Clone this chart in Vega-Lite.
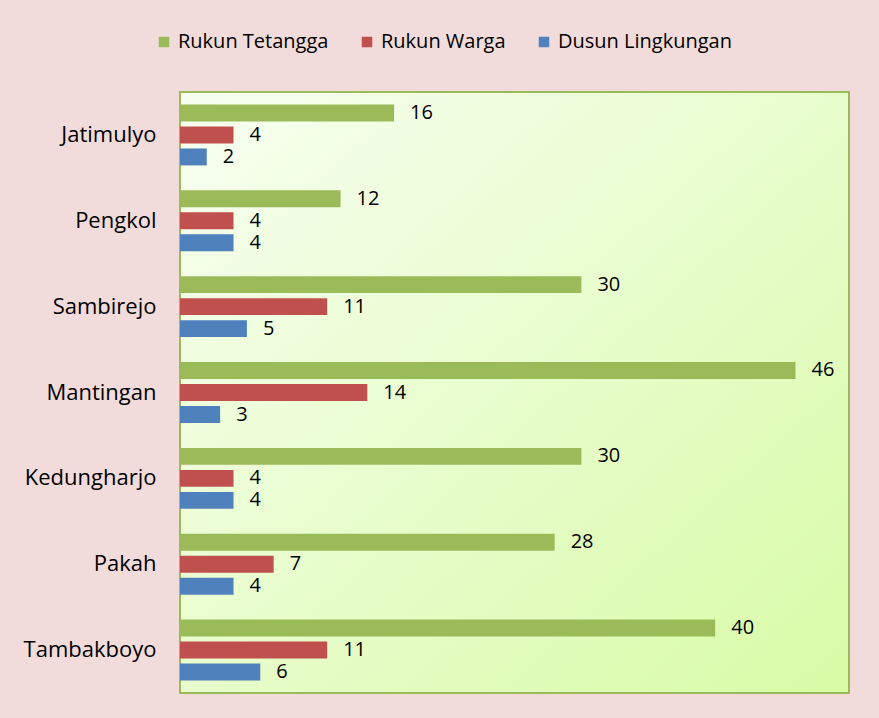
{
  "$schema": "https://vega.github.io/schema/vega-lite/v6.json",
  "width": 669,
  "height": 601,
  "autosize": "none",
  "padding": {"left": 180, "top": 92, "right": 30, "bottom": 25},
  "background": "#f2dcdb",
  "config": {
    "font": "Open Sans",
    "view": {
      "fill": {"gradient": "linear", "x1": 0, "y1": 0, "x2": 1, "y2": 1, "stops": [{"offset": 0, "color": "#f8fff2"}, {"offset": 1, "color": "#d8fba6"}]},
      "stroke": "#9bbb59",
      "strokeWidth": 2
    }
  },
  "data": {
    "values": [
      {"desa": "Jatimulyo", "jenis": "Rukun Tetangga", "jumlah": 16},
      {"desa": "Jatimulyo", "jenis": "Rukun Warga", "jumlah": 4},
      {"desa": "Jatimulyo", "jenis": "Dusun Lingkungan", "jumlah": 2},
      {"desa": "Pengkol", "jenis": "Rukun Tetangga", "jumlah": 12},
      {"desa": "Pengkol", "jenis": "Rukun Warga", "jumlah": 4},
      {"desa": "Pengkol", "jenis": "Dusun Lingkungan", "jumlah": 4},
      {"desa": "Sambirejo", "jenis": "Rukun Tetangga", "jumlah": 30},
      {"desa": "Sambirejo", "jenis": "Rukun Warga", "jumlah": 11},
      {"desa": "Sambirejo", "jenis": "Dusun Lingkungan", "jumlah": 5},
      {"desa": "Mantingan", "jenis": "Rukun Tetangga", "jumlah": 46},
      {"desa": "Mantingan", "jenis": "Rukun Warga", "jumlah": 14},
      {"desa": "Mantingan", "jenis": "Dusun Lingkungan", "jumlah": 3},
      {"desa": "Kedungharjo", "jenis": "Rukun Tetangga", "jumlah": 30},
      {"desa": "Kedungharjo", "jenis": "Rukun Warga", "jumlah": 4},
      {"desa": "Kedungharjo", "jenis": "Dusun Lingkungan", "jumlah": 4},
      {"desa": "Pakah", "jenis": "Rukun Tetangga", "jumlah": 28},
      {"desa": "Pakah", "jenis": "Rukun Warga", "jumlah": 7},
      {"desa": "Pakah", "jenis": "Dusun Lingkungan", "jumlah": 4},
      {"desa": "Tambakboyo", "jenis": "Rukun Tetangga", "jumlah": 40},
      {"desa": "Tambakboyo", "jenis": "Rukun Warga", "jumlah": 11},
      {"desa": "Tambakboyo", "jenis": "Dusun Lingkungan", "jumlah": 6}
    ]
  },
  "encoding": {
    "y": {
      "field": "desa", "type": "nominal", "sort": null,
      "scale": {"paddingInner": 0.29, "paddingOuter": 0.145},
      "axis": {"title": null, "ticks": false, "domain": false, "labelFontSize": 22, "labelColor": "#000000", "labelPadding": 24, "labelFont": "Open Sans", "labelLimit": 0}
    },
    "yOffset": {
      "field": "jenis", "type": "nominal",
      "sort": ["Rukun Tetangga", "Rukun Warga", "Dusun Lingkungan"],
      "scale": {"paddingInner": 0.23, "paddingOuter": 0}
    },
    "x": {
      "field": "jumlah", "type": "quantitative",
      "scale": {"domain": [0, 50], "nice": false},
      "axis": null
    }
  },
  "layer": [
    {
      "mark": {"type": "bar", "stroke": null},
      "encoding": {
        "color": {
          "field": "jenis", "type": "nominal",
          "sort": ["Rukun Tetangga", "Rukun Warga", "Dusun Lingkungan"],
          "scale": {"domain": ["Rukun Tetangga", "Rukun Warga", "Dusun Lingkungan"], "range": ["#9bbb59", "#c0504d", "#4f81bd"]},
          "legend": {
            "title": null, "orient": "none", "direction": "horizontal",
            "legendX": -26, "legendY": -60,
            "symbolType": "square", "symbolSize": 110, "symbolStrokeWidth": 0,
            "labelFontSize": 20, "labelColor": "#000000", "labelOffset": 4, "labelLimit": 0,
            "columnPadding": 28, "symbolOffset": 0
          }
        }
      }
    },
    {
      "mark": {"type": "text", "align": "left", "baseline": "middle", "dx": 16, "fontSize": 20, "color": "#000000"},
      "encoding": {"text": {"field": "jumlah", "type": "quantitative"}}
    }
  ]
}
